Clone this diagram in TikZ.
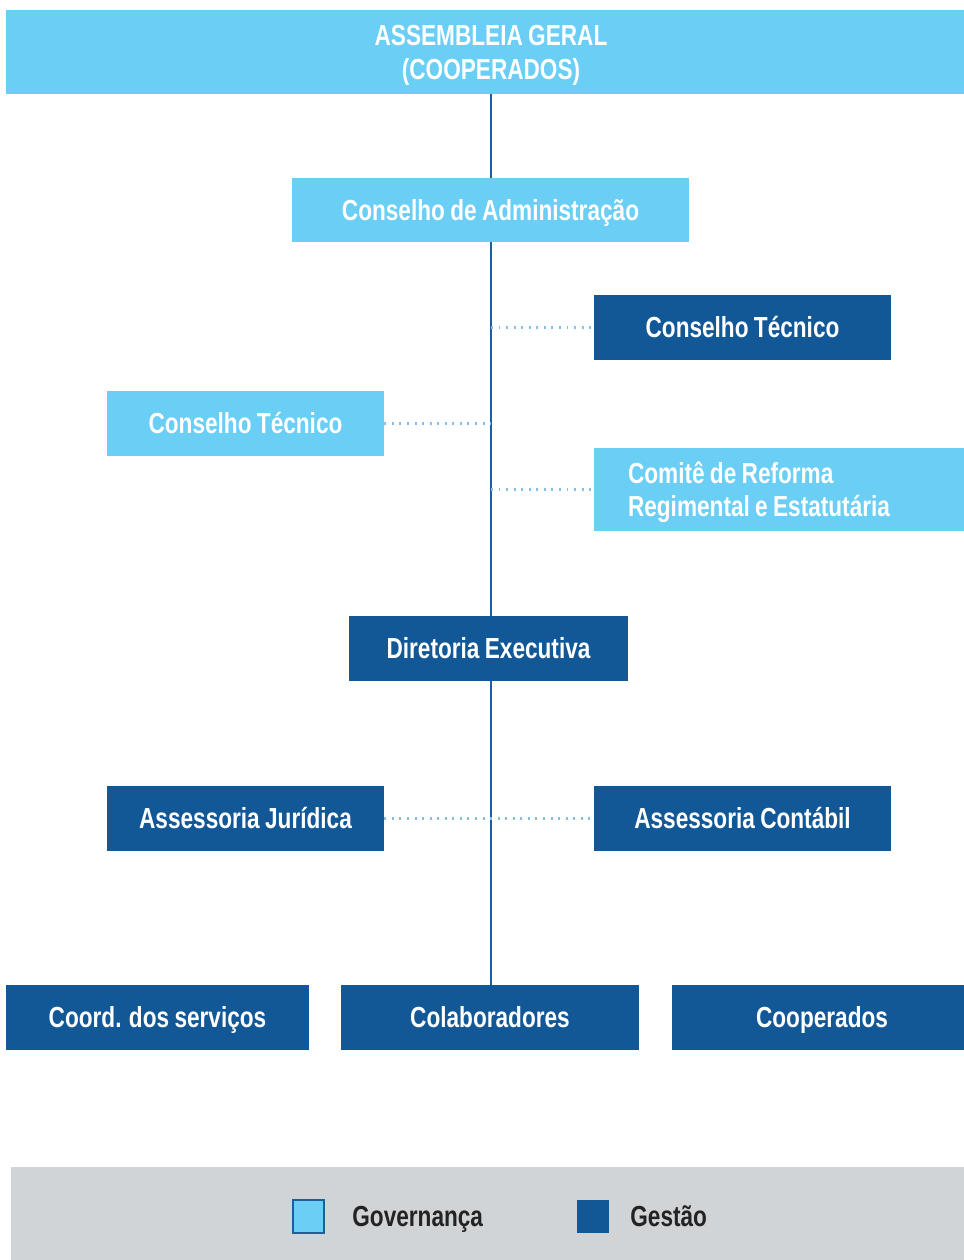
\documentclass[tikz,border=0pt]{standalone}
\usepackage{fontspec}
\setmainfont{Liberation Sans}[FakeStretch=0.78, WordSpace=0.85]
\usetikzlibrary{backgrounds}
\definecolor{Governanca}{HTML}{6ACEF5}
\definecolor{Gestao}{HTML}{135896}
\definecolor{SpineBlue}{HTML}{1F5E99}
\definecolor{DotBlue}{HTML}{86C0E6}
\definecolor{LegendGrey}{HTML}{D1D4D7}
\definecolor{LegendText}{HTML}{232323}
\begin{document}
\begin{tikzpicture}
   [x=0.02cm, y=-0.02cm,
   govbox/.style={fill=Governanca, text=white, font=\fontsize{16.5}{19}\selectfont\bfseries, inner sep=0pt, text height=11.8pt, text depth=0pt, align=center},
   gesbox/.style={govbox, fill=Gestao},
   twolines/.style={text height=30.8pt},
   legtext/.style={anchor=west, text=LegendText, font=\fontsize{16.5}{19}\selectfont\bfseries, inner sep=0pt, text height=11.8pt, text depth=0pt},
   spine/.style={SpineBlue, line width=1.2pt},
   dotline/.style={DotBlue, line width=1.5pt, dash pattern=on 1.1pt off 3.2pt}]
    \useasboundingbox (0,0) rectangle (963,1260);
    \coordinate (axis) at (491,0);
    % governanca
    \node[govbox, twolines, minimum width=970*0.02cm, minimum height=84*0.02cm] (assembleia) at (491,52) {ASSEMBLEIA GERAL\\(COOPERADOS)};
    \node[govbox, minimum width=397*0.02cm, minimum height=64*0.02cm] (conadm) at (490.5,210) {Conselho de Administração};
    \node[govbox, minimum width=277*0.02cm, minimum height=65*0.02cm] (contecgov) at (245.5,423.5) {Conselho Técnico};
    \node[govbox, text depth=19pt, minimum width=400*0.02cm, minimum height=83*0.02cm, text width=332*0.02cm, align=flush left] (comite) at (794,489.5) {Comitê de Reforma\\Regimental e Estatutária};
    % gestao
    \node[gesbox, minimum width=297*0.02cm, minimum height=65*0.02cm] (contecges) at (742.5,327.5) {Conselho Técnico};
    \node[gesbox, minimum width=279*0.02cm, minimum height=65*0.02cm] (diretoria) at (488.5,648.5) {Diretoria Executiva};
    \node[gesbox, minimum width=277*0.02cm, minimum height=65*0.02cm] (juridica) at (245.5,818.5) {Assessoria Jurídica};
    \node[gesbox, minimum width=297*0.02cm, minimum height=65*0.02cm] (contabil) at (742.5,818.5) {Assessoria Contábil};
    \node[gesbox, minimum width=303*0.02cm, minimum height=65*0.02cm] (coord) at (157.5,1017.5) {Coord. dos serviços};
    \node[gesbox, minimum width=298*0.02cm, minimum height=65*0.02cm] (colab) at (490,1017.5) {Colaboradores};
    \node[gesbox, minimum width=300*0.02cm, minimum height=65*0.02cm] (coop) at (822,1017.5) {Cooperados};
    % ligacoes
    \begin{pgfonlayer}{background}
    \draw[spine] (assembleia.south -| axis) -- (colab.north -| axis);
    \end{pgfonlayer}
    \draw[dotline] (contecges.west -| axis) -- (contecges.west);
    \draw[dotline] (contecgov.east) -- (contecgov.east -| axis);
    \draw[dotline] (comite.west -| axis) -- (comite.west);
    \draw[dotline] (juridica.east) -- (contabil.west);
    % legenda
    \fill[LegendGrey] (11,1167) rectangle (975,1260);
    \node[draw=SpineBlue, line width=0.6pt, fill=Governanca, minimum width=31*0.02cm, minimum height=33*0.02cm, inner sep=0pt] (leggov) at (308.5,1216.5) {};
    \node[fill=Gestao, minimum width=32*0.02cm, minimum height=33*0.02cm, inner sep=0pt] (legges) at (593,1216.5) {};
    \node[legtext] (txtgov) at (352,1216.5) {Governança};
    \node[legtext] (txtges) at (630,1216.5) {Gestão};
\end{tikzpicture}
\end{document}
